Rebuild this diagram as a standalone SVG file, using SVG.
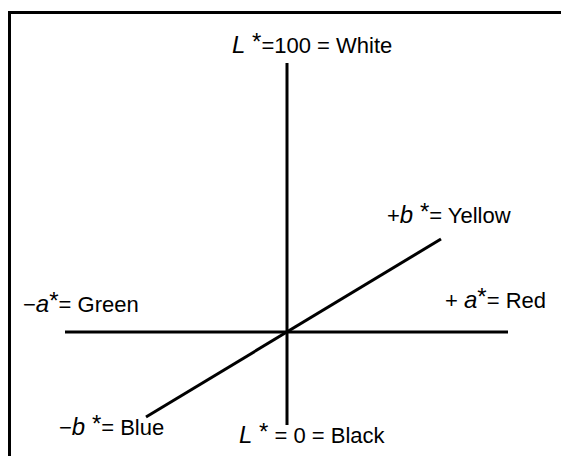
<svg xmlns="http://www.w3.org/2000/svg" width="561" height="456" viewBox="0 0 561 456">
<style>
.ax{stroke:#000;stroke-width:3;fill:none}
.fr{stroke:#000;stroke-width:3;fill:none}
text{font-family:"Liberation Sans",Arial,sans-serif;font-size:22px;fill:#000}
.i{font-style:italic;font-size:24px}
.s{font-size:24px}
</style>
<rect width="561" height="456" fill="#fff"/>
<path class="fr" d="M9.5,456 V12.5 H561"/>
<g id="connectors">
<line class="ax" x1="287" y1="63" x2="287" y2="425"/>
<line class="ax" x1="65" y1="332" x2="508" y2="332"/>
<line class="ax" x1="146" y1="417" x2="441" y2="239"/>
</g>
<g id="L100"><text x="232" y="53"><tspan class="i">L</tspan><tspan class="s" dy="-3"> *</tspan><tspan dy="3">=100 = White</tspan></text></g>
<g id="L0"><text x="239" y="443"><tspan class="i">L</tspan><tspan class="s" dy="-3"> *</tspan><tspan dy="3"> = 0 = Black</tspan></text></g>
<g id="aneg"><text x="23" y="312">−<tspan class="i">a</tspan><tspan class="s" dy="-3">*</tspan><tspan dy="3">= Green</tspan></text></g>
<g id="apos"><text x="445" y="308">+ <tspan class="i">a</tspan><tspan class="s" dy="-3">*</tspan><tspan dy="3">= Red</tspan></text></g>
<g id="bpos"><text x="387" y="223">+<tspan class="i">b</tspan><tspan class="s" dy="-3"> *</tspan><tspan dy="3">= Yellow</tspan></text></g>
<g id="bneg"><text x="59" y="435">−<tspan class="i">b</tspan><tspan class="s" dy="-3"> *</tspan><tspan dy="3">= Blue</tspan></text></g>
</svg>
